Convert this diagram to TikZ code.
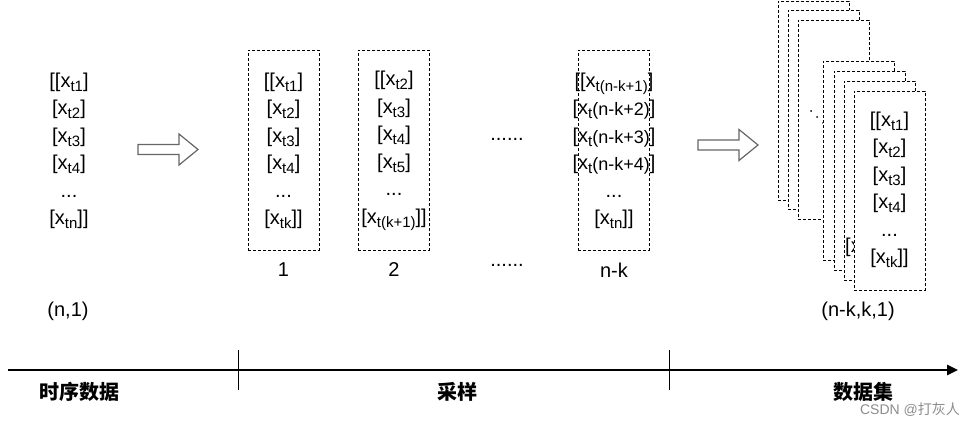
\documentclass[tikz,border=0pt]{standalone}
\usepackage{fontspec}
\setmainfont{Liberation Sans}
\newfontfamily\cjk{Noto Sans CJK SC}
\usetikzlibrary{arrows.meta}

% x with a lowered index, and x_t followed by a bracketed term
\newcommand{\xsub}[1]{x\raisebox{-4pt}{\fontsize{15}{15}\selectfont #1}}
\newcommand{\xtpar}[1]{x\raisebox{-4pt}{\fontsize{15}{15}\selectfont t}\raisebox{-1pt}{\fontsize{18}{18}\selectfont #1}}

\begin{document}
\begin{tikzpicture}[x=1pt, y=-1pt,
  winbox/.style={draw, dash pattern=on 3pt off 2pt, line width=0.8pt, fill=white,
    minimum width=71pt, minimum height=200pt, anchor=north west, inner sep=0pt},
  stackbox/.style={winbox, minimum height=199pt},
  seqtxt/.style={font=\fontsize{20}{27.5}\selectfont, align=center, inner sep=0pt},
  lbl/.style={font=\fontsize{20}{24}\selectfont, inner sep=0pt},
  phase/.style={font=\cjk\bfseries\fontsize{20}{24}\selectfont, inner sep=0pt},
  axis/.style={line width=2.5pt, -{Triangle[length=11pt, width=10pt]}},
  tick/.style={line width=1pt},
  fatarrow/.pic={\draw[line width=1.2pt, draw=black!60, fill=white]
    (0,-5) -- (41,-5) -- (41,-15.5) -- (60,0) -- (41,15.5) -- (41,5) -- (0,5) -- cycle;}
]
\useasboundingbox (0,0) rectangle (969,427);

% the series
\node[seqtxt] (series) at (69,151) {[[\xsub{t1}]\\{[}\xsub{t2}]\\{[}\xsub{t3}]\\{[}\xsub{t4}]\\...\\{[}\xsub{tn}]]};
\node[lbl] (serieslbl) at (68,311) {(n,1)};
\pic at (138,149.5) {fatarrow};

% sliding windows
\node[winbox] (win1) at (248,50) {};
\node[seqtxt] (win1txt) at (283.5,151) {[[\xsub{t1}]\\{[}\xsub{t2}]\\{[}\xsub{t3}]\\{[}\xsub{t4}]\\...\\{[}\xsub{tk}]]};
\node[lbl] (win1lbl) at (283.5,270) {1};

\node[winbox] (win2) at (358,50) {};
\node[seqtxt] (win2txt) at (394,151) {[[\xsub{t2}]\\{[}\xsub{t3}]\\{[}\xsub{t4}]\\{[}\xsub{t5}]\\...\\{[}\xsub{t(k+1)}]]};
\node[lbl] (win2lbl) at (394,270) {2};

\node[lbl, anchor=base] (gapup) at (507,141) {......};
\node[lbl, anchor=base] (gapdown) at (507,267) {......};

\node[winbox] (winn) at (578,50) {};
\node[seqtxt] (winntxt) at (614,151) {[[\xsub{t(n-k+1)}]\\{[}\xtpar{(n-k+2)}]\\{[}\xtpar{(n-k+3)}]\\{[}\xtpar{(n-k+4)}]\\...\\{[}\xsub{tn}]]};
\node[lbl] (winnlbl) at (614,270) {n-k};
\pic at (698,145) {fatarrow};

% stacked data set
\foreach \bx/\by/\nm in {778/1/sa, 788/10/sb, 798/20/sc}
  \node[stackbox] (\nm) at (\bx,\by) {};
\foreach \i in {0,1,2}
  \fill (811+6*\i,111+6*\i) circle (1pt);
\foreach \bx/\by/\nm in {823/61/sd, 834/71/se, 844/81/sf}
  \node[stackbox] (\nm) at (\bx,\by) {};
\node[lbl, anchor=west] (sftxt) at (845,247) {[x};
\node[stackbox] (sg) at (854,91) {};
\node[seqtxt] (sgtxt) at (889.5,190) {[[\xsub{t1}]\\{[}\xsub{t2}]\\{[}\xsub{t3}]\\{[}\xsub{t4}]\\...\\{[}\xsub{tk}]]};
\node[lbl] (stacklbl) at (858,311) {(n-k,k,1)};

% time line
\coordinate (t0) at (8,370);
\coordinate (t1) at (958,370);
\draw[axis] (t0) -- (t1);
\coordinate (k1a) at (238,350);
\coordinate (k1b) at (238,390);
\coordinate (k2a) at (669,350);
\coordinate (k2b) at (669,390);
\draw[tick] (k1a) -- (k1b);
\draw[tick] (k2a) -- (k2b);
\node[phase] (ph1) at (79,392) {时序数据};
\node[phase] (ph2) at (457,392) {采样};
\node[phase] (ph3) at (863,392) {数据集};
\node[font=\fontsize{14}{14}\selectfont, text=black!45, inner sep=0pt] (mark) at (910,410) {CSDN @{\cjk 打灰人}};
\end{tikzpicture}
\end{document}
